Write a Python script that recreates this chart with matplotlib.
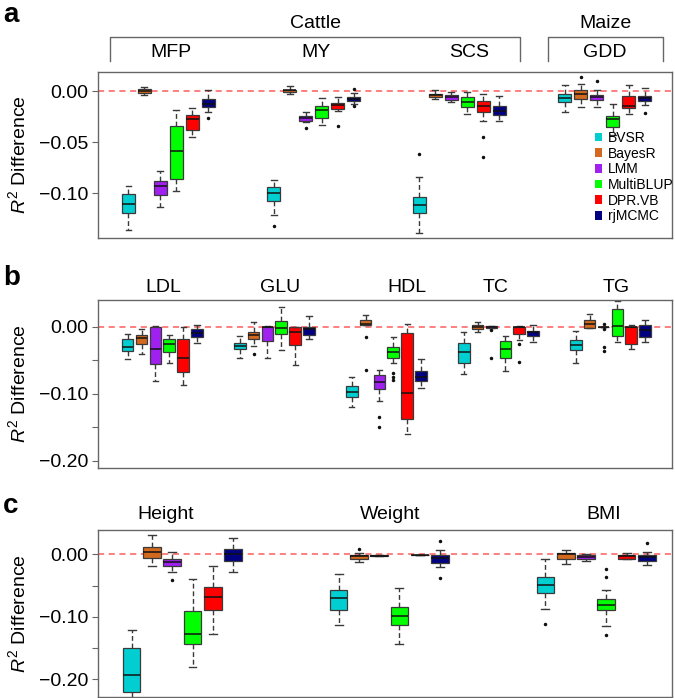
import numpy as np
import matplotlib
matplotlib.use("Agg")
import matplotlib.pyplot as plt
from matplotlib.patches import Patch
from matplotlib.lines import Line2D

plt.rcParams['font.family'] = ['Liberation Sans', 'DejaVu Sans']
plt.rcParams['mathtext.fontset'] = 'custom'
plt.rcParams['mathtext.rm'] = 'Liberation Sans'
plt.rcParams['mathtext.it'] = 'Liberation Sans:italic'

methods = ['BVSR', 'BayesR', 'LMM', 'MultiBLUP', 'DPR.VB', 'rjMCMC']
colors = ['#00CED1', '#D2691E', '#A020F0', '#00FF00', '#FF0000', '#000080']

# ---- panel a : cattle / maize traits (rows = trait, cols = method)
a_traits = ['MFP', 'MY', 'SCS', 'GDD']
a_lo = [[-0.1356, -0.0040, -0.1134, -0.0977, -0.0454, -0.0209],
        [-0.1209, -0.0026, -0.0300, -0.0333, -0.0196, -0.0127],
        [-0.1386, -0.0075, -0.0105, -0.0229, -0.0290, -0.0290],
        [-0.0206, -0.0154, -0.0160, -0.0431, -0.0225, -0.0140]]
a_q1 = [[-0.1190, -0.0020, -0.1013, -0.0863, -0.0379, -0.0160],
        [-0.1080, -0.0010, -0.0290, -0.0265, -0.0176, -0.0095],
        [-0.1190, -0.0059, -0.0085, -0.0154, -0.0209, -0.0239],
        [-0.0105, -0.0082, -0.0092, -0.0350, -0.0170, -0.0095]]
a_med = [[-0.1110, 0.0000, -0.0928, -0.0585, -0.0278, -0.0127],
         [-0.0993, 0.0007, -0.0260, -0.0186, -0.0140, -0.0075],
         [-0.1114, -0.0040, -0.0059, -0.0105, -0.0147, -0.0196],
         [-0.0069, -0.0033, -0.0062, -0.0278, -0.0147, -0.0065]]
a_q3 = [[-0.1003, 0.0016, -0.0880, -0.0343, -0.0235, -0.0082],
        [-0.0938, 0.0013, -0.0245, -0.0144, -0.0114, -0.0056],
        [-0.1040, -0.0026, -0.0036, -0.0062, -0.0101, -0.0150],
        [-0.0033, 0.0007, -0.0036, -0.0245, -0.0046, -0.0046]]
a_hi = [[-0.0928, 0.0040, -0.0780, -0.0186, -0.0170, 0.0010],
        [-0.0873, 0.0050, -0.0209, -0.0065, -0.0056, -0.0023],
        [-0.0840, 0.0010, -0.0010, -0.0010, -0.0030, -0.0049],
        [0.0059, 0.0072, 0.0010, -0.0131, 0.0056, 0.0029]]
a_out = [[[], [], [], [], [], [-0.0268]],
         [[-0.1317], [], [-0.0366], [], [-0.0340], [0.0020, -0.0147]],
         [[-0.0621], [], [], [], [-0.0448, -0.0644], []],
         [[], [0.0134], [0.0098], [], [], [-0.0212]]]

# ---- panel b : lipid / glucose traits
b_traits = ['LDL', 'GLU', 'HDL', 'TC', 'TG']
b_lo = [[-0.0476, -0.0412, -0.0804, -0.0536, -0.0873, -0.0243],
        [-0.0461, -0.0288, -0.0471, -0.0347, -0.0570, -0.0188],
        [-0.1190, 0.0025, -0.1101, -0.0546, -0.1597, -0.0908],
        [-0.0709, -0.0079, -0.0025, -0.0655, -0.0198, -0.0223],
        [-0.0546, -0.0020, -0.0010, -0.0223, -0.0337, -0.0233]]
b_q1 = [[-0.0362, -0.0263, -0.0556, -0.0377, -0.0670, -0.0159],
        [-0.0332, -0.0184, -0.0208, -0.0114, -0.0273, -0.0129],
        [-0.1052, 0.0025, -0.0933, -0.0466, -0.1379, -0.0813],
        [-0.0541, -0.0030, -0.0015, -0.0466, -0.0104, -0.0134],
        [-0.0347, -0.0020, -0.0010, -0.0139, -0.0253, -0.0149]]
b_med = [[-0.0308, -0.0164, -0.0332, -0.0263, -0.0461, -0.0089],
         [-0.0283, -0.0124, -0.0010, -0.0025, -0.0074, -0.0040],
         [-0.0972, 0.0040, -0.0818, -0.0377, -0.0992, -0.0749],
         [-0.0382, 0.0000, 0.0000, -0.0327, -0.0010, -0.0084],
         [-0.0268, 0.0035, -0.0010, 0.0010, -0.0010, -0.0050]]
b_q3 = [[-0.0188, -0.0124, -0.0010, -0.0179, -0.0188, -0.0040],
        [-0.0238, -0.0079, -0.0005, 0.0084, -0.0010, -0.0010],
        [-0.0883, 0.0099, -0.0719, -0.0303, -0.0089, -0.0660],
        [-0.0248, 0.0025, 0.0010, -0.0218, -0.0010, -0.0060],
        [-0.0203, 0.0099, -0.0010, 0.0263, 0.0000, 0.0025]]
b_hi = [[-0.0109, -0.0040, 0.0010, -0.0119, 0.0000, 0.0025],
        [-0.0144, 0.0074, 0.0015, 0.0293, -0.0010, 0.0159],
        [-0.0754, 0.0179, -0.0645, -0.0149, 0.0040, -0.0481],
        [-0.0074, 0.0074, 0.0010, -0.0134, 0.0010, 0.0020],
        [-0.0064, 0.0188, -0.0010, 0.0382, 0.0025, 0.0099]]
b_out = [[[], [], [], [], [], []],
         [[], [-0.0412], [], [], [], []],
         [[], [-0.0159, -0.0645], [-0.1349, -0.1498], [-0.0685, -0.0744, -0.0794], [], []],
         [[], [], [-0.0050, -0.0461], [], [-0.0263, -0.0526], []],
         [[], [], [0.0035, -0.0040, -0.0308, -0.0357], [], [], []]]

# ---- panel c : anthropometric traits
c_traits = ['Height', 'Weight', 'BMI']
c_lo = [[-0.2400, -0.0192, -0.0288, -0.1813, -0.1275, -0.0288],
        [-0.1131, -0.0128, -0.0032, -0.1440, -0.0016, -0.0197],
        [-0.0880, -0.0149, -0.0112, -0.1147, -0.0080, -0.0171]]
c_q1 = [[-0.2213, -0.0053, -0.0192, -0.1440, -0.0896, -0.0101],
        [-0.0885, -0.0069, -0.0032, -0.1136, -0.0016, -0.0133],
        [-0.0619, -0.0069, -0.0069, -0.0885, -0.0080, -0.0107]]
c_med = [[-0.1936, 0.0037, -0.0128, -0.1280, -0.0683, 0.0000],
         [-0.0693, -0.0032, -0.0020, -0.0997, -0.0016, -0.0059],
         [-0.0485, 0.0000, -0.0037, -0.0816, -0.0032, -0.0043]]
c_q3 = [[-0.1510, 0.0117, -0.0069, -0.0907, -0.0528, 0.0080],
        [-0.0565, -0.0010, -0.0010, -0.0848, -0.0016, -0.0005],
        [-0.0368, 0.0027, -0.0016, -0.0709, -0.0016, -0.0005]]
c_hi = [[-0.1216, 0.0304, 0.0043, -0.0395, -0.0181, 0.0256],
        [-0.0320, 0.0027, -0.0010, -0.0539, -0.0016, 0.0069],
        [-0.0069, 0.0064, 0.0005, -0.0565, 0.0021, 0.0043]]
c_out = [[[], [], [-0.0405], [], [], []],
         [[], [0.0091], [], [], [], [0.0219, -0.0379]],
         [[-0.1110], [], [], [-0.0235, -0.0363, -0.1296], [], [0.0176]]]

W, H = 675, 698
FS = 14
fig = plt.figure(figsize=(W / 100, H / 100), dpi=100)


def px_axes(left, top, right, bottom):
    return fig.add_axes([left / W, 1 - bottom / H, (right - left) / W, (bottom - top) / H])


def draw_panel(ax, lo, q1, med, q3, hi, out, first, period, width, xmax, ylim):
    for g in range(len(lo)):
        stats, pos = [], []
        for m in range(6):
            stats.append(dict(whislo=lo[g][m], q1=q1[g][m], med=med[g][m],
                              q3=q3[g][m], whishi=hi[g][m], fliers=out[g][m]))
            pos.append(first + g * period + m)
        bp = ax.bxp(stats, positions=pos, widths=width, patch_artist=True,
                    capwidths=width * 0.45, manage_ticks=False,
                    boxprops=dict(edgecolor='#3a3a3a', linewidth=0.9),
                    whiskerprops=dict(color='#3a3a3a', linestyle=(0, (3.5, 2)), linewidth=1.0),
                    capprops=dict(color='#3a3a3a', linewidth=1.0),
                    medianprops=dict(color='#111111', linewidth=1.1),
                    flierprops=dict(marker='o', markersize=1.5, markerfacecolor='#111111',
                                    markeredgecolor='#111111', linestyle='none'))
        for patch, col in zip(bp['boxes'], colors):
            patch.set_facecolor(col)
    ax.axhline(0, color='#FF4040', linestyle=(0, (4, 3)), linewidth=1.1, alpha=0.85, zorder=0.5)
    ax.set_xlim(0, xmax)
    ax.set_ylim(*ylim)
    ax.set_xticks([])
    for sp in ax.spines.values():
        sp.set_color('#666666')
        sp.set_linewidth(1.0)
    ax.tick_params(axis='y', length=4, color='#666666', labelsize=FS, pad=3)


def set_yticks(ax, ticks, labelled):
    ax.set_yticks(ticks)
    ax.set_yticklabels([('%.2f' % t).replace('-', '\u2212') if t in labelled else '' for t in ticks])


# panel a
ax_a = px_axes(98, 72, 672, 238)
draw_panel(ax_a, a_lo, a_q1, a_med, a_q3, a_hi, a_out, 1.9, 9.1, 0.8, 35.9, (-0.1438, 0.0186))
set_yticks(ax_a, [0.0, -0.05, -0.10], [0.0, -0.05, -0.10])
for name, x in zip(a_traits, [4.55, 13.65, 23.2, 31.7]):
    ax_a.text(x, 1.12, name, transform=ax_a.get_xaxis_transform(), ha='center', va='center', fontsize=FS)
tr = ax_a.get_xaxis_transform()
for (x0, x1, label) in [(0.75, 26.42, 'Cattle'), (28.13, 35.31, 'Maize')]:
    ax_a.add_line(Line2D([x0, x0, x1, x1], [1.066, 1.2127, 1.2127, 1.066], transform=tr,
                         color='#666666', linewidth=1.0, clip_on=False))
    ax_a.text((x0 + x1) / 2 if label == 'Maize' else 13.6, 1.295, label, transform=tr,
              ha='center', va='center', fontsize=FS)
handles = [Patch(facecolor=c, edgecolor='none') for c in colors]
ax_a.legend(handles, methods, loc='upper left', bbox_to_anchor=(0.865, 0.645), frameon=False,
            fontsize=10, handlelength=0.55, handleheight=0.55, handletextpad=0.4,
            labelspacing=0.12, borderpad=0, borderaxespad=0)

# panel b
ax_b = px_axes(98, 300, 672, 467.7)
draw_panel(ax_b, b_lo, b_q1, b_med, b_q3, b_hi, b_out, 2.14, 8.08, 0.84, 41.4, (-0.21, 0.0397))
set_yticks(ax_b, [0.0, -0.05, -0.10, -0.15, -0.20], [0.0, -0.10, -0.20])
for name, x in zip(b_traits, [4.69, 13.13, 22.29, 28.69, 37.37]):
    ax_b.text(x, 1.072, name, transform=ax_b.get_xaxis_transform(), ha='center', va='center', fontsize=FS)

# panel c
ax_c = px_axes(98, 530, 672, 697)
draw_panel(ax_c, c_lo, c_q1, c_med, c_q3, c_hi, c_out, 1.66, 10.2, 0.87, 28.3, (-0.2288, 0.039))
set_yticks(ax_c, [0.0, -0.05, -0.10, -0.15, -0.20], [0.0, -0.10, -0.20])
for name, x in zip(c_traits, [3.33, 14.38, 24.93]):
    ax_c.text(x, 1.09, name, transform=ax_c.get_xaxis_transform(), ha='center', va='center', fontsize=FS)

for ax, letter, ly in [(ax_a, 'a', 15), (ax_b, 'b', 278), (ax_c, 'c', 506)]:
    pos = ax.get_position()
    fig.text(18 / W, (pos.y0 + pos.y1) / 2, r'$R^2$ Difference', rotation=90,
             ha='center', va='center', fontsize=FS)
    fig.text(3 / W, 1 - ly / H, letter, fontsize=20, fontweight='bold', ha='left', va='center')

fig.savefig('out.png', dpi=100)
